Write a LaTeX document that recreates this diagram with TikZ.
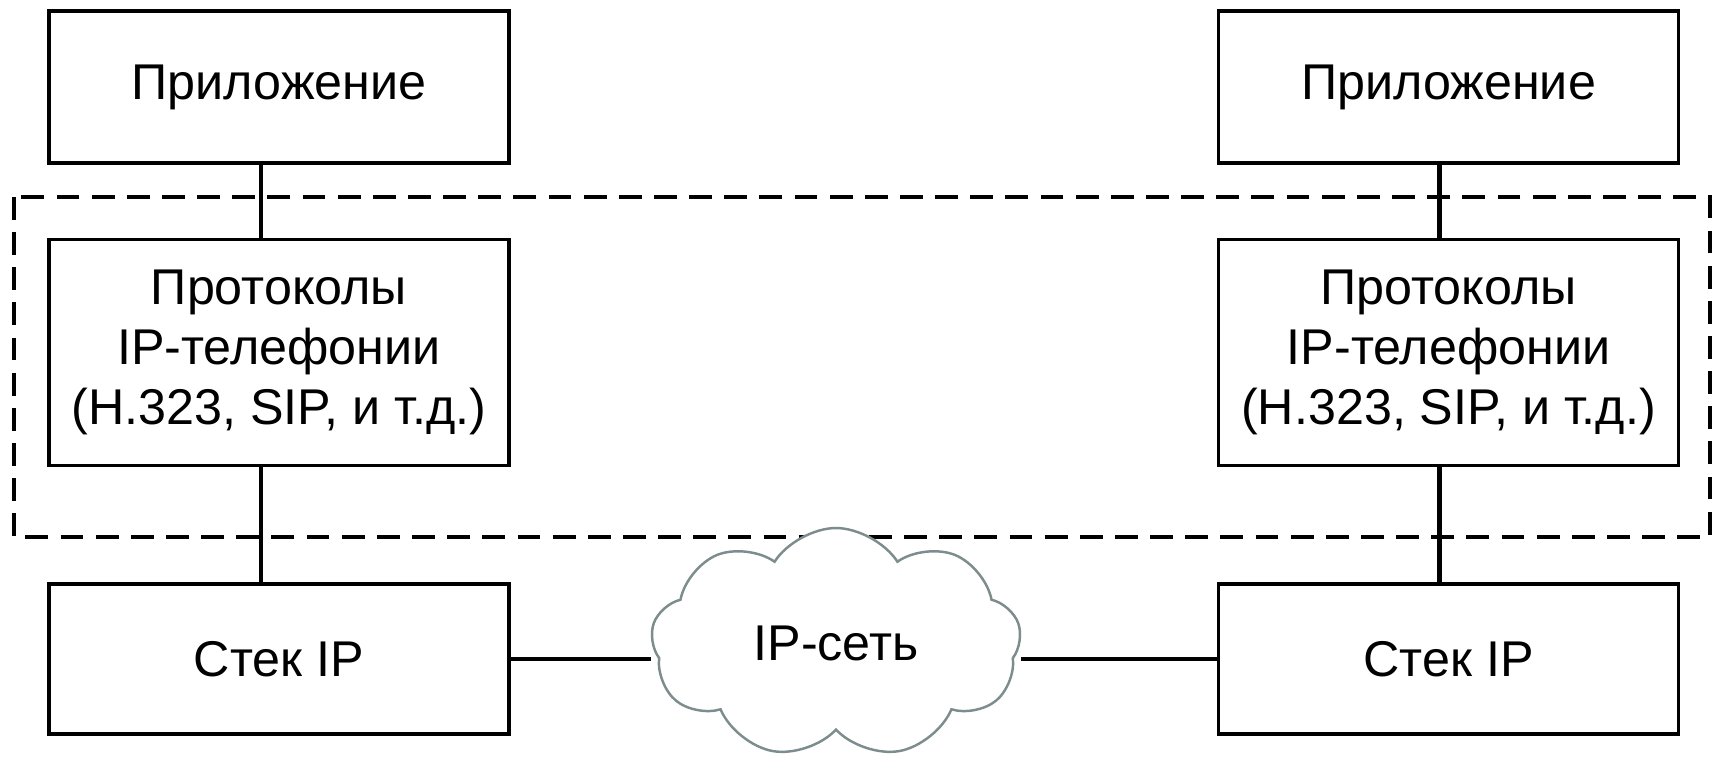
\documentclass[tikz,border=0pt]{standalone}
\usepackage{fontspec}
\setmainfont{Liberation Sans}
\usetikzlibrary{positioning,shapes.symbols}
\definecolor{cloudgrey}{RGB}{125,140,140}
\tikzset{layerbox/.style={rectangle, draw=black, line width=1pt, fill=white,
  minimum width=4.6cm, align=center, inner sep=2pt}}
\tikzset{link/.style={draw=black, line width=1.2pt}}
\tikzset{zone/.style={draw=black, line width=1pt, dash pattern=on 6.5pt off 3.5pt}}
\begin{document}
\begin{tikzpicture}[font=\fontsize{14.3pt}{17pt}\selectfont]
  \useasboundingbox (0,0) rectangle (17.12,-7.61);
  % dashed area round the protocol layer
  \draw[zone] (0.14,-1.97) rectangle (17.10,-5.37);
  \node[layerbox, minimum height=1.52cm] (app1) at (2.79,-0.87) {Приложение};
  \node[layerbox, minimum height=2.26cm, below=7.3mm of app1] (proto1) {Протоколы\\IP-телефонии\\(H.323, SIP, и т.д.)};
  \node[layerbox, minimum height=1.5cm, below=11.5mm of proto1] (stack1) {Стек IP};
  \node[layerbox, minimum height=1.52cm, right=7.06cm of app1] (app2) {Приложение};
  \node[layerbox, minimum height=2.26cm, below=7.3mm of app2] (proto2) {Протоколы\\IP-телефонии\\(H.323, SIP, и т.д.)};
  \node[layerbox, minimum height=1.5cm, below=11.5mm of proto2] (stack2) {Стек IP};
  \node[cloud, cloud puffs=9, cloud puff arc=115, aspect=1.6, draw=cloudgrey, fill=white,
    line width=0.7pt, minimum width=3.7cm, minimum height=2.3cm] (net) at (8.36,-6.43) {IP-сеть};
  \draw[link] ([xshift=-1.8mm]app1.south) -- ([xshift=-1.8mm]proto1.north);
  \draw[link] ([xshift=-1.8mm]proto1.south) -- ([xshift=-1.8mm]stack1.north);
  \draw[link] ([xshift=-0.9mm]app2.south) -- ([xshift=-0.9mm]proto2.north);
  \draw[link] ([xshift=-0.9mm]proto2.south) -- ([xshift=-0.9mm]stack2.north);
  \draw[link] (stack1.east) -- (net.west |- stack1.east);
  \draw[link] (net.east |- stack2.west) -- (stack2.west);
\end{tikzpicture}
\end{document}
